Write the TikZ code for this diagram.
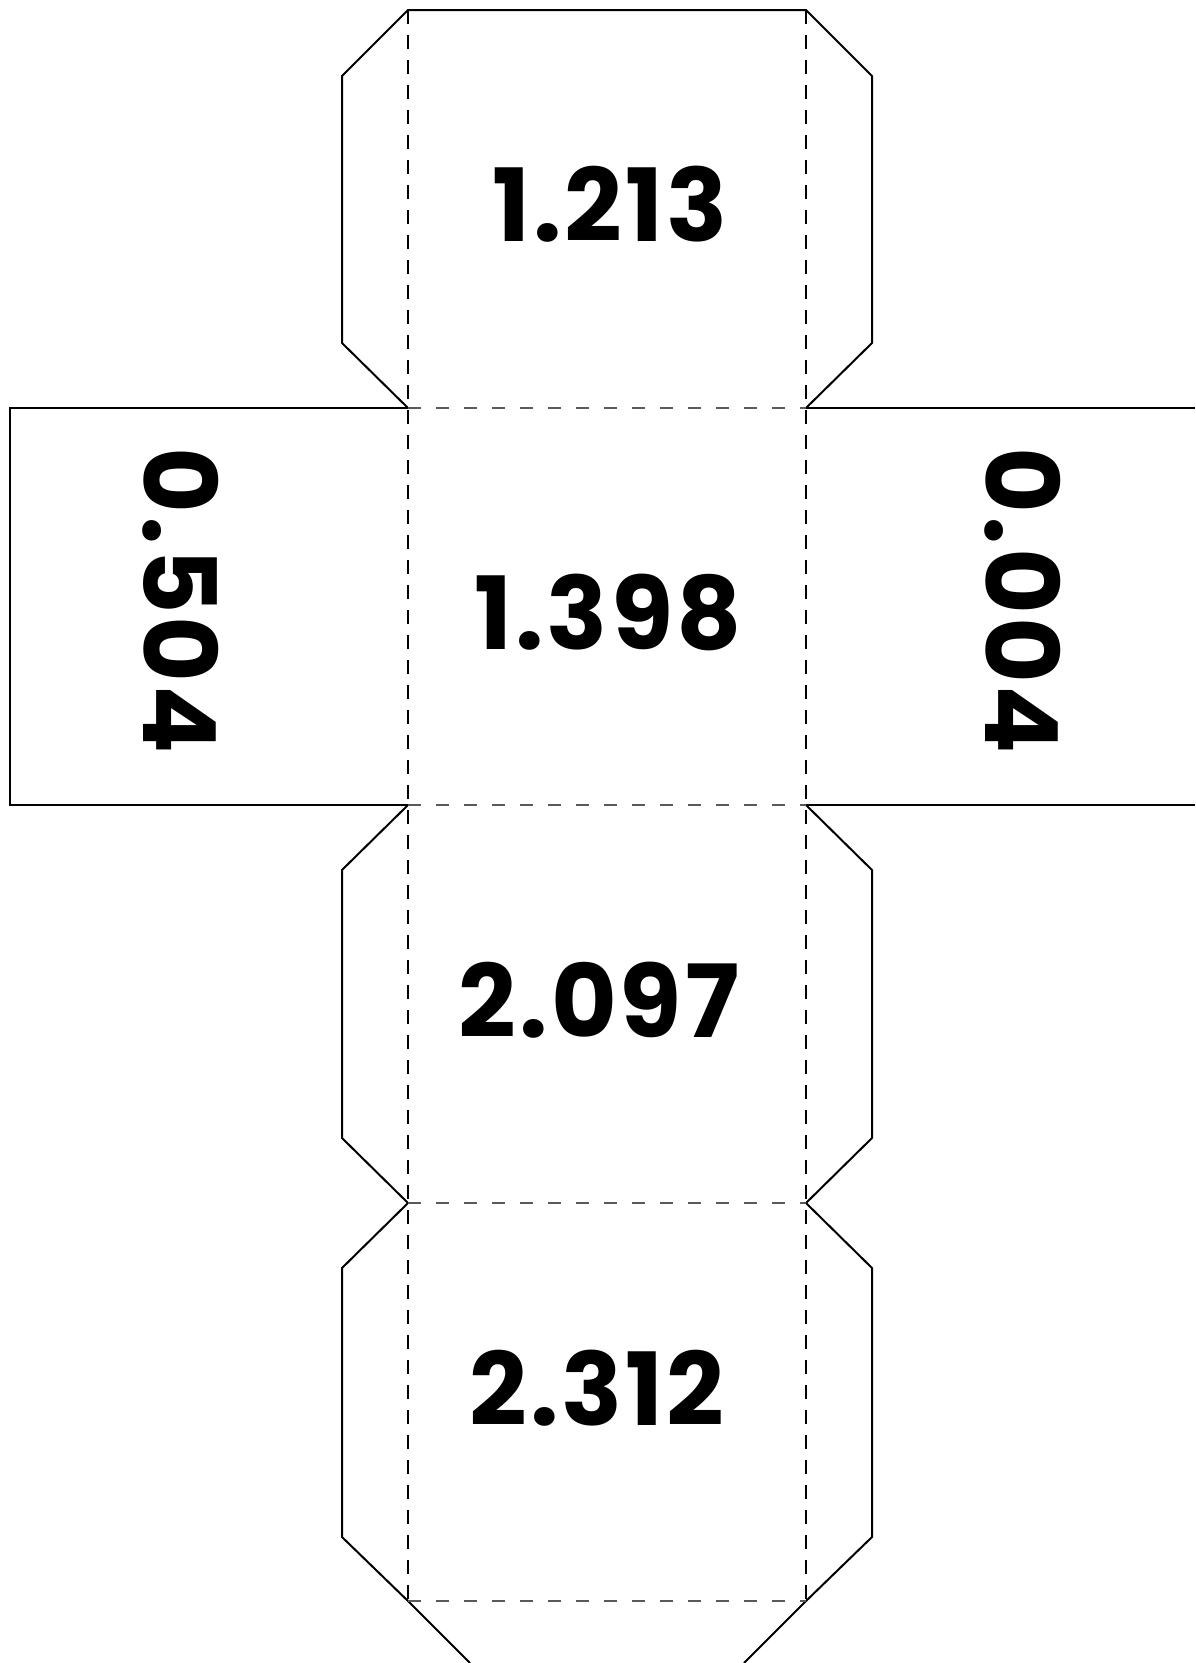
\documentclass[tikz,border=0pt]{standalone}
\usepackage{fontspec}
\setmainfont{Poppins}[LetterSpace=3]
\tikzset{
  cut/.style={line width=2pt, line join=miter},
  fold/.style={line width=1.1pt, dash pattern=on 14pt off 11pt},
  crease/.style={line width=2pt, gray!70!black, dash pattern=on 13pt off 15pt},
  value/.style={font=\fontsize{101}{101}\selectfont\bfseries, inner sep=0pt},
}
\begin{document}
\begin{tikzpicture}[x=1pt,y=-1pt]
  \useasboundingbox (0,0) rectangle (1195,1663);
  \fill[white] (0,0) rectangle (1195,1663);
  % top face and its tabs
  \draw[cut] (408,408) -- (342,343) -- (342,76) -- (408,10) -- (806,10)
    -- (872,76) -- (872,343) -- (806,408);
  % side faces
  \draw[cut] (408,408) -- (10,408) -- (10,805) -- (408,805);
  \draw[cut] (806,408) -- (1195,408) (806,805) -- (1195,805);
  % lower faces and their tabs
  \draw[cut] (408,805) -- (342,870) -- (342,1138) -- (408,1203)
    -- (342,1268) -- (342,1537) -- (408,1601) -- (470,1663);
  \draw[cut] (806,805) -- (872,870) -- (872,1138) -- (806,1203)
    -- (872,1268) -- (872,1537) -- (806,1601) -- (744,1663);
  \begin{scope}[crease]
    \draw (408,408) -- (806,408);
    \draw (408,805) -- (806,805);
    \draw (408,1203) -- (806,1203);
    \draw (408,1601) -- (806,1601);
  \end{scope}
  \draw[fold] (408,10) -- (408,1601);
  \draw[fold] (806,10) -- (806,1601);
  \node[value] (top) at (610,204) {1.213};
  \node[value] (front) at (608,612) {1.398};
  \node[value] (bottom) at (599,1000) {2.097};
  \node[value] (back) at (597,1388) {2.312};
  \node[value, rotate=-90] (left) at (181,601) {0.504};
  \node[value, rotate=-90] (right) at (1023,601) {0.004};
\end{tikzpicture}
\end{document}
